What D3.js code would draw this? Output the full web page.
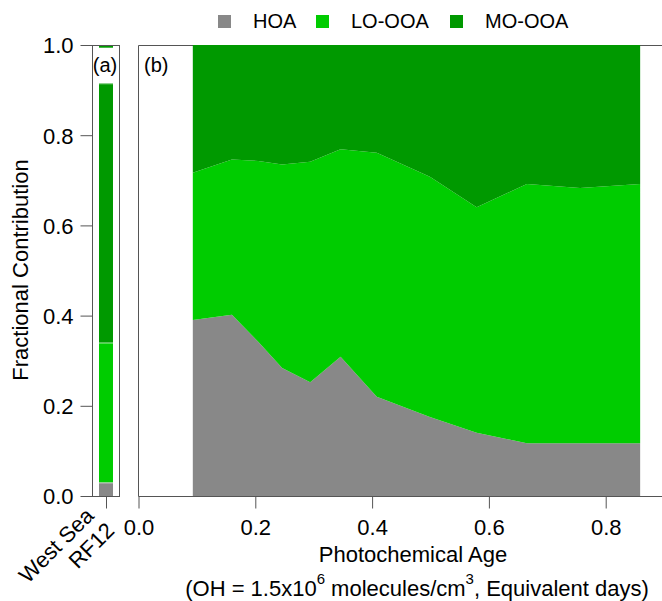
<!DOCTYPE html>
<html>
<head>
<meta charset="utf-8">
<script src="https://cdn.jsdelivr.net/npm/d3@7"></script>
<style>
  html, body { margin: 0; padding: 0; background: #fff; }
  svg { display: block; font-family: "Liberation Sans", Arial, sans-serif; }
</style>
</head>
<body>
<svg id="chart" width="662" height="601"></svg>
<script>
// Aerosol factor names and fill colours
const factorKeys = ["HOA", "LO-OOA", "MO-OOA"];
const factorColors = ["#888888", "#00cc00", "#009900"];

// Panel (b): fractional contribution versus photochemical age (days)
const photoAge = [0.093, 0.160, 0.205, 0.246, 0.294, 0.346, 0.408, 0.499, 0.579, 0.665, 0.756, 0.859];
const hoaFrac  = [0.390, 0.402, 0.342, 0.284, 0.252, 0.309, 0.220, 0.175, 0.140, 0.117, 0.117, 0.117];
const loooaFrac = [0.327, 0.344, 0.401, 0.451, 0.489, 0.460, 0.541, 0.533, 0.500, 0.575, 0.566, 0.575];
const moooaFrac = [0.283, 0.254, 0.257, 0.265, 0.259, 0.231, 0.239, 0.292, 0.360, 0.308, 0.317, 0.308];

// Panel (a): West Sea RF12 stacked segments (lower / upper bounds)
const westSeaLabel = ["West Sea", "RF12"];
const westSeaKey  = ["HOA", "LO-OOA", "MO-OOA", "MO-OOA"];
const westSeaLow  = [0.000, 0.030, 0.340, 0.994];
const westSeaHigh = [0.030, 0.340, 0.915, 1.000];

// Axis ticks
const fracTicks = [0, 0.2, 0.4, 0.6, 0.8, 1.0];
const ageTicks = [0, 0.2, 0.4, 0.6, 0.8];

const svg = d3.select("#chart");
const axisColor = "#555";
const tickFont = 22;
const titleFont = 22;
const legendFont = 20;
const fontStack = "Liberation Sans, Arial, sans-serif";

const color = d3.scaleOrdinal().domain(factorKeys).range(factorColors);

const y = d3.scaleLinear().domain([0, 1]).range([496, 45]);
const x = d3.scaleLinear().domain([0, 0.9]).range([138.5, 138.5 + 0.9 * 584]);
const xa = d3.scalePoint().domain([westSeaLabel.join(" ")]).range([92, 120]).padding(0.5);

// ---------- Panel (a) ----------
const gA = svg.append("g");
const barW = 14;
const barX = xa(westSeaLabel.join(" ")) - barW / 2;
const segs = westSeaKey.map((k, i) => ({ key: k, lo: westSeaLow[i], hi: westSeaHigh[i] }));
gA.selectAll("rect.seg").data(segs).join("rect")
  .attr("class", "seg")
  .attr("x", barX)
  .attr("width", barW)
  .attr("y", d => y(d.hi))
  .attr("height", d => y(d.lo) - y(d.hi))
  .attr("fill", d => color(d.key));
// faint highlight along the top edge of each segment
gA.selectAll("line.edge").data(segs).join("line")
  .attr("class", "edge")
  .attr("x1", barX)
  .attr("x2", barX + barW)
  .attr("y1", d => y(d.hi) + 0.5)
  .attr("y2", d => y(d.hi) + 0.5)
  .attr("stroke", "rgba(255,255,255,0.5)")
  .attr("stroke-width", 1);

// frame of panel (a)
gA.append("rect")
  .attr("x", 92.5).attr("y", 45.5)
  .attr("width", 27).attr("height", 451)
  .attr("fill", "none").attr("stroke", axisColor).attr("stroke-width", 1);

gA.append("text")
  .attr("x", 105).attr("y", 72)
  .attr("text-anchor", "middle")
  .attr("font-size", 20)
  .text("(a)");

// y axis
const yAxis = svg.append("g")
  .attr("transform", "translate(92.5,0)")
  .call(d3.axisLeft(y).tickValues(fracTicks).tickSize(12).tickSizeOuter(0).tickPadding(7).tickFormat(d3.format(".1f")));
yAxis.select(".domain").remove();
yAxis.selectAll("line").attr("stroke", axisColor);
yAxis.selectAll("text").attr("font-size", tickFont).attr("font-family", fontStack).attr("fill", "#000").attr("dy", "0.36em");

// x axis of panel (a)
const xaAxis = svg.append("g")
  .attr("transform", "translate(0,496.5)")
  .call(d3.axisBottom(xa).tickSize(12).tickSizeOuter(0));
xaAxis.select(".domain").remove();
xaAxis.selectAll("line").attr("stroke", axisColor);
xaAxis.selectAll("text").remove();
xaAxis.selectAll(".tick").append("text")
  .attr("transform", "translate(0,12) rotate(-45)")
  .attr("text-anchor", "end")
  .attr("font-size", tickFont)
  .attr("font-family", fontStack)
  .attr("fill", "#000")
  .selectAll("tspan").data(westSeaLabel).join("tspan")
  .attr("x", (d, i) => i === 0 ? -14 : -10)
  .attr("y", (d, i) => i === 0 ? -2 : 23)
  .text(d => d);

// y axis title
svg.append("text")
  .attr("transform", "translate(28,270) rotate(-90)")
  .attr("text-anchor", "middle")
  .attr("font-size", titleFont)
  .text("Fractional Contribution");

// ---------- Panel (b) ----------
const rows = photoAge.map((a, i) => ({ age: a, "HOA": hoaFrac[i], "LO-OOA": loooaFrac[i], "MO-OOA": moooaFrac[i] }));
const stacked = d3.stack().keys(factorKeys)(rows);
const area = d3.area()
  .x(d => x(d.data.age))
  .y0(d => y(d[0]))
  .y1(d => y(d[1]));

const gB = svg.append("g");
// frame: left, top and bottom edges
gB.append("path")
  .attr("d", "M662,45.5H138.5V496.5H662")
  .attr("fill", "none").attr("stroke", axisColor).attr("stroke-width", 1);

gB.selectAll("path.layer").data(stacked).join("path")
  .attr("class", "layer")
  .attr("d", area)
  .attr("fill", d => color(d.key));

gB.append("text")
  .attr("x", 144).attr("y", 72)
  .attr("font-size", 20)
  .text("(b)");

const xAxis = svg.append("g")
  .attr("transform", "translate(0,496.5)")
  .call(d3.axisBottom(x).tickValues(ageTicks).tickSize(12).tickSizeOuter(0).tickFormat(d3.format(".1f")));
xAxis.select(".domain").remove();
xAxis.selectAll("line").attr("stroke", axisColor);
xAxis.selectAll("text")
  .attr("font-size", tickFont)
  .attr("font-family", fontStack)
  .attr("fill", "#000")
  .attr("y", 38.5).attr("dy", null);

// x axis titles
svg.append("text")
  .attr("x", 413).attr("y", 562)
  .attr("text-anchor", "middle")
  .attr("font-size", titleFont)
  .text("Photochemical Age");

const sub = svg.append("text")
  .attr("x", 417).attr("y", 596)
  .attr("text-anchor", "middle")
  .attr("font-size", titleFont);
sub.append("tspan").text("(OH = 1.5x10");
sub.append("tspan").attr("dy", -12).attr("font-size", 15).text("6");
sub.append("tspan").attr("dy", 12).text(" molecules/cm");
sub.append("tspan").attr("dy", -12).attr("font-size", 15).text("3");
sub.append("tspan").attr("dy", 12).text(", Equivalent days)");

// ---------- Legend ----------
const legendSquareX = [218, 316, 450];
const legend = svg.append("g");
factorKeys.forEach((k, i) => {
  legend.append("rect")
    .attr("x", legendSquareX[i]).attr("y", 15)
    .attr("width", 13).attr("height", 13)
    .attr("fill", color(k));
  legend.append("text")
    .attr("x", legendSquareX[i] + 35).attr("y", 28)
    .attr("font-size", legendFont)
    .text(k);
});
</script>
</body>
</html>
